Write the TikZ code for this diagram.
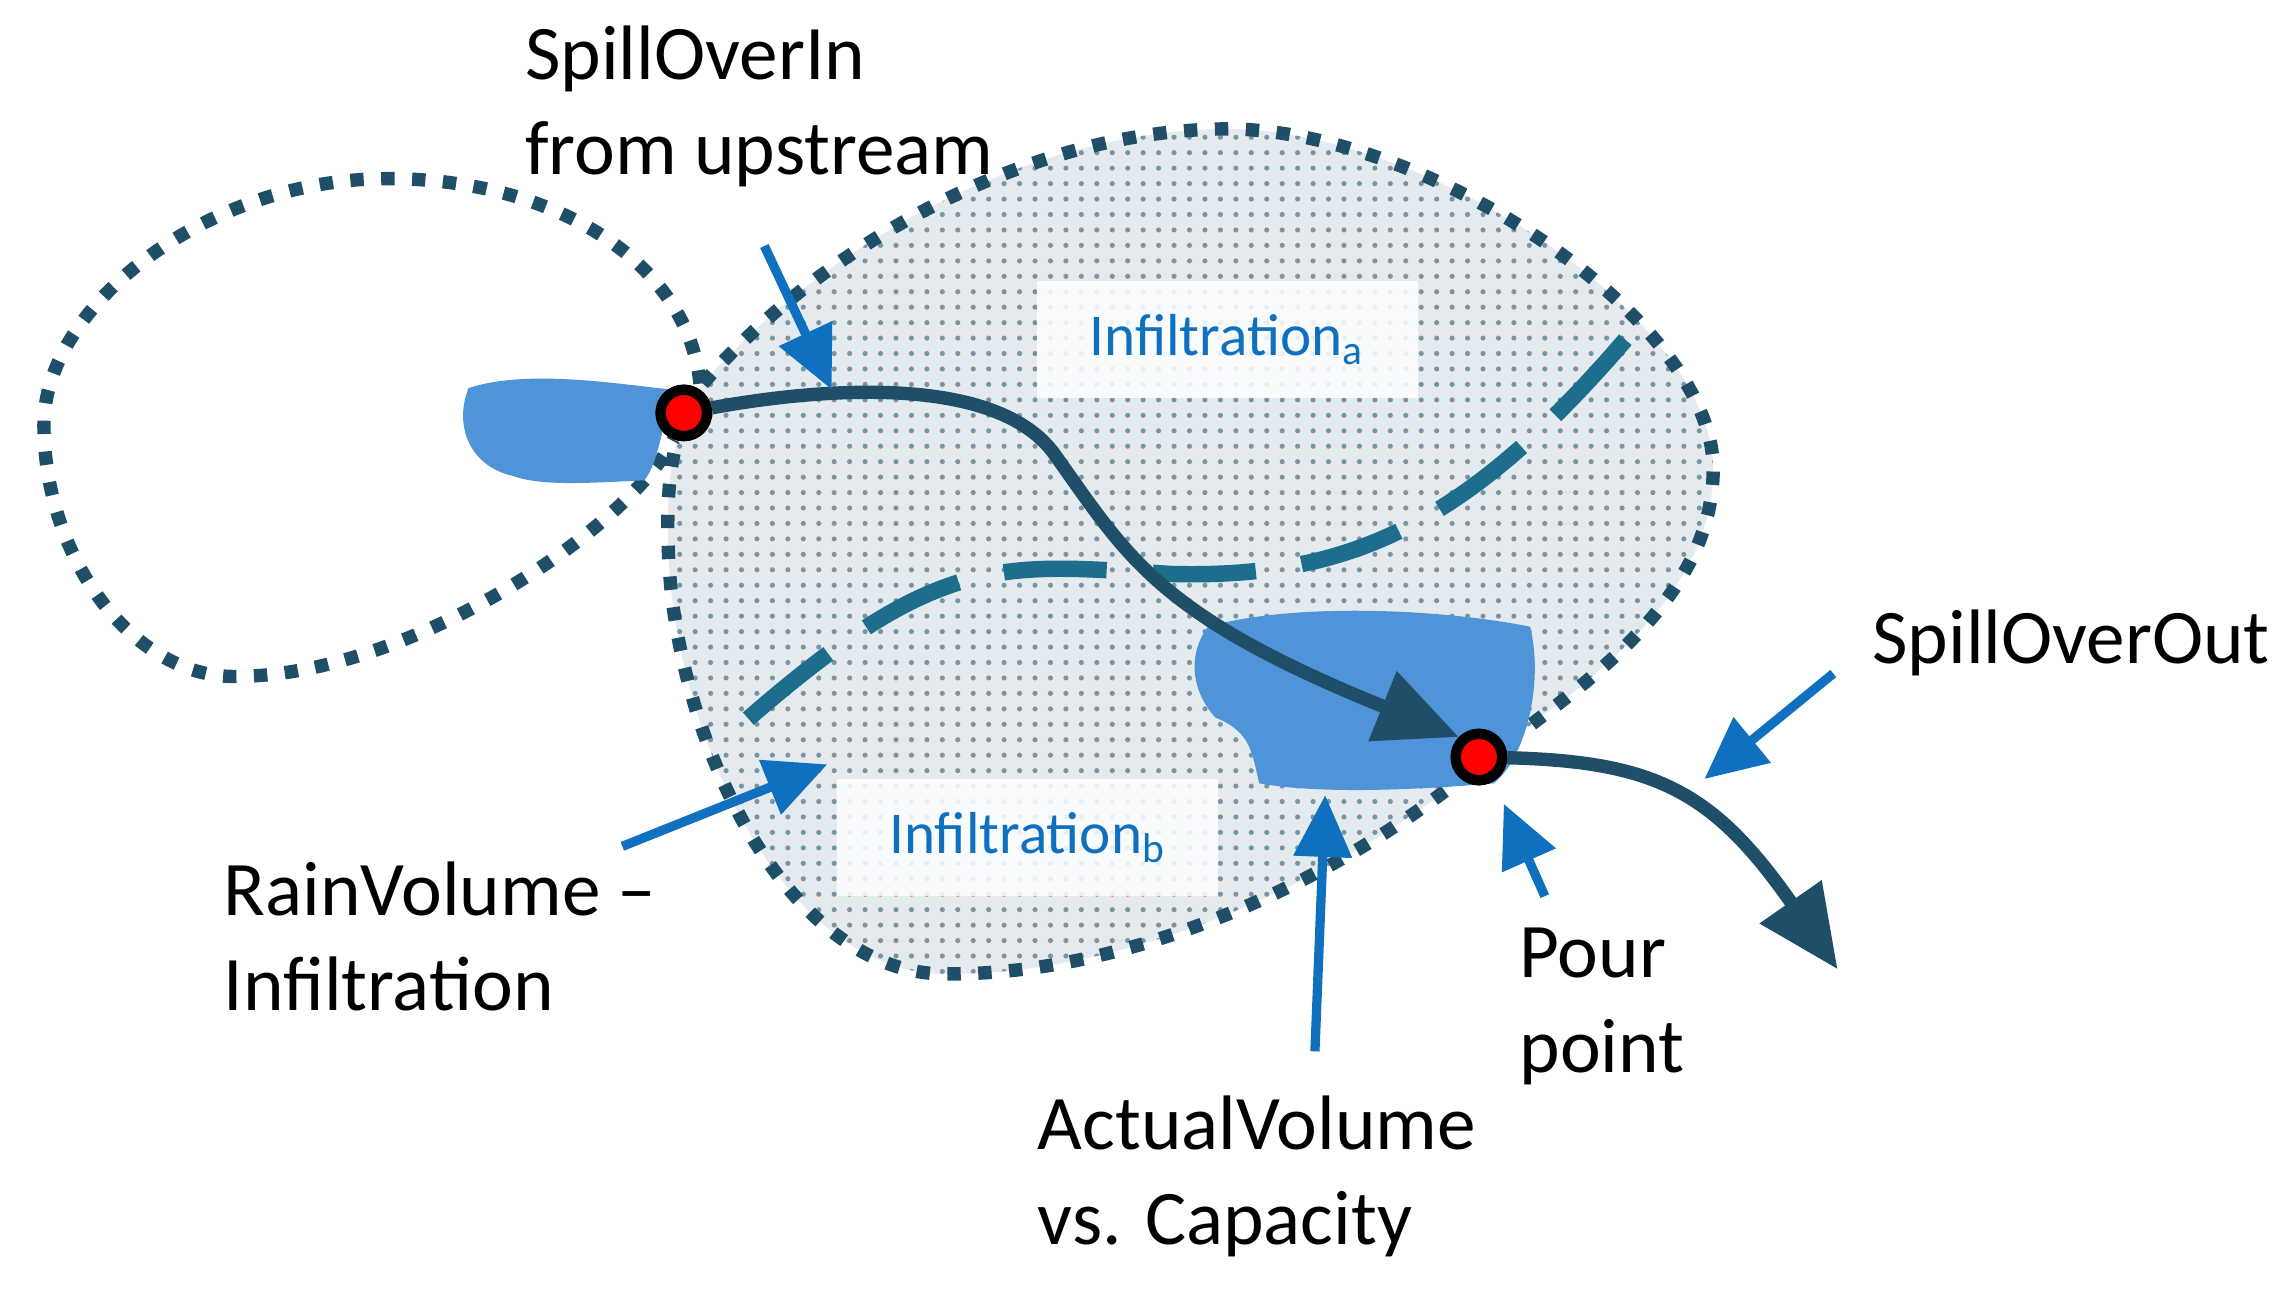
\documentclass[tikz,border=0pt]{standalone}
\usepackage{fontspec}
\setmainfont{Carlito}
\usetikzlibrary{arrows.meta,patterns}
\definecolor{dk}{HTML}{1F4E68}
\definecolor{lb}{HTML}{0F70C0}
\definecolor{blob}{HTML}{4F93D8}
\definecolor{dashc}{HTML}{1C6E8C}
\tikzset{
 lbl/.style={anchor=north west,align=left,font=\fontsize{15}{18.4}\selectfont,inner sep=0pt},
 inf/.style={text=lb,font=\fontsize{11.5}{13}\selectfont,fill=white,fill opacity=0.85,text opacity=1,minimum width=2.6cm,minimum height=0.8cm},
 dotb/.style={draw=dk,line width=2.6pt,dash pattern=on 2.6pt off 3.4pt},
 bar/.style={draw=lb,line width=1.8pt,-{Triangle[length=12pt,width=11pt]}},
 flow/.style={draw=dk,line width=2.6pt},
 pt/.style={circle,fill=red,draw=black,line width=2pt,minimum size=9pt,inner sep=0pt}
}
\begin{document}
\begin{tikzpicture}[x=0.01cm,y=-0.01cm]
\useasboundingbox (0,0) rectangle (1568,885);
% big catchment
\path[fill=dk!12] (480,262) .. controls (560,170) and (700,88) .. (840,88)
 .. controls (980,90) and (1170,220) .. (1170,320)
 .. controls (1170,420) and (1060,480) .. (1000,530)
 .. controls (900,610) and (760,668) .. (640,665)
 .. controls (540,660) and (470,520) .. (458,400)
 .. controls (452,330) and (460,290) .. (480,262) -- cycle;
\path[pattern=dots,pattern color=dk!60] (480,262) .. controls (560,170) and (700,88) .. (840,88)
 .. controls (980,90) and (1170,220) .. (1170,320)
 .. controls (1170,420) and (1060,480) .. (1000,530)
 .. controls (900,610) and (760,668) .. (640,665)
 .. controls (540,660) and (470,520) .. (458,400)
 .. controls (452,330) and (460,290) .. (480,262) -- cycle;
\node[inf] (ia) at (838,232) {Infiltration\textsubscript{a}};
\node[inf] (ib) at (702,572) {Infiltration\textsubscript{b}};
\draw[dotb] (480,262) .. controls (560,170) and (700,88) .. (840,88)
 .. controls (980,90) and (1170,220) .. (1170,320)
 .. controls (1170,420) and (1060,480) .. (1000,530)
 .. controls (900,610) and (760,668) .. (640,665)
 .. controls (540,660) and (470,520) .. (458,400)
 .. controls (452,330) and (460,290) .. (480,262) -- cycle;
% left loop
\draw[dotb] (478,262) .. controls (470,180) and (380,122) .. (265,122)
 .. controls (140,122) and (30,210) .. (30,290)
 .. controls (30,380) and (90,462) .. (160,462)
 .. controls (280,462) and (430,360) .. (460,300);
% blobs
\fill[blob] (320,265) .. controls (360,252) and (420,262) .. (458,266)
 .. controls (452,300) and (447,320) .. (440,328)
 .. controls (400,330) and (370,332) .. (350,325)
 .. controls (320,318) and (310,290) .. (320,265) -- cycle;
\fill[blob] (825,428) .. controls (880,412) and (980,415) .. (1045,428)
 .. controls (1055,470) and (1040,520) .. (1020,535)
 .. controls (960,540) and (900,542) .. (860,535)
 .. controls (855,515) and (855,500) .. (830,490)
 .. controls (812,470) and (812,445) .. (825,428) -- cycle;
% dashed divide
\draw[dashc,line width=3.2pt,dash pattern=on 20pt off 9pt] (1110,232) .. controls (1000,360) and (920,395) .. (800,392)
 .. controls (680,385) and (640,375) .. (495,505);
% flow
\node[pt] (p1) at (467,282) {};
\node[pt] (p2) at (1010,517) {};
\coordinate (oe) at (1255,662);
\draw[flow,-{Triangle[length=16pt,width=14pt]}] (p1) .. controls (560,265) and (680,255) .. (720,310)
 .. controls (770,380) and (790,420) .. (p2.north west);
\draw[flow,-{Triangle[length=16pt,width=14pt]}] (p2) .. controls (1130,520) and (1170,540) .. (oe);
\node[pt] at (467,282) {};
\node[pt] at (1010,517) {};
% labels
\node[lbl] (t1) at (358,17) {SpillOverIn\\from upstream};
\node[lbl] (t2) at (152,588) {RainVolume –\\Infiltration};
\node[lbl] (t3) at (708,748) {ActualVolume\\vs. Capacity};
\node[lbl] (t4) at (1037,633) {Pour\\point};
\node[lbl] (t5) at (1278,416) {SpillOverOut};
\coordinate (a1) at (522,168); \coordinate (b1) at (568,266);
\coordinate (a2) at (425,578); \coordinate (b2) at (565,522);
\coordinate (a3) at (898,718); \coordinate (b3) at (905,543);
\coordinate (a4) at (1055,612); \coordinate (b4) at (1027,549);
\coordinate (a5) at (1252,460); \coordinate (b5) at (1164,532);
\draw[bar] (a1)--(b1);
\draw[bar] (a2)--(b2);
\draw[bar] (a3)--(b3);
\draw[bar] (a4)--(b4);
\draw[bar] (a5)--(b5);
\end{tikzpicture}
\end{document}
